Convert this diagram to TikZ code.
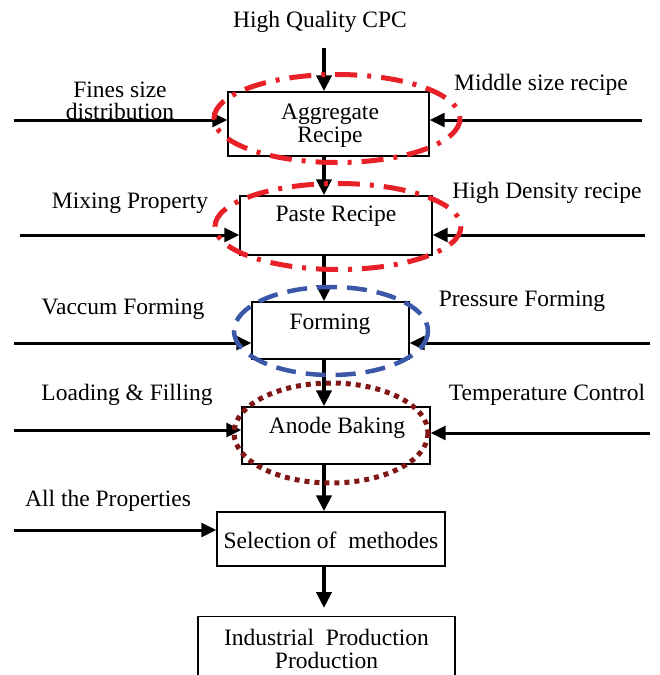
\documentclass[tikz,border=0pt]{standalone}
\usepackage{fontspec}
\setmainfont{Liberation Serif}
\usetikzlibrary{arrows.meta}
\definecolor{ellred}{RGB}{232,32,40}
\definecolor{ellblue}{RGB}{59,87,167}
\definecolor{ellbrown}{RGB}{128,22,22}
\begin{document}
\begin{tikzpicture}[x=1pt,y=-1pt,
  box/.style={draw, line width=1.4pt, fill=white, inner sep=0pt},
  txt/.style={inner sep=0pt, align=center, font=\fontsize{23.5}{23}\selectfont},
  mainarr/.style={line width=4.8pt, -{Triangle[length=16pt,width=15pt]}},
  sidearr/.style={line width=3pt, -{Triangle[length=15pt,width=14pt]}},
  redell/.style={draw=ellred, line width=5pt, dash pattern=on 22pt off 10pt on 4pt off 10pt},
  blueell/.style={draw=ellblue, line width=4.5pt, dash pattern=on 20pt off 10pt},
  brownell/.style={draw=ellbrown, line width=5pt, dash pattern=on 5pt off 5pt}
]
\useasboundingbox (0,0) rectangle (660,675);
\fill[white] (0,0) rectangle (660,675);

% boxes
\node[box, minimum width=201pt, minimum height=64pt] (b1) at (328.5,124) {};
\node[box, minimum width=192pt, minimum height=59pt] (b2) at (336,225.5) {};
\node[box, minimum width=157pt, minimum height=57pt] (b3) at (330.5,330.5) {};
\node[box, minimum width=188pt, minimum height=57pt] (b4) at (336,435.5) {};
\node[box, minimum width=228pt, minimum height=54pt] (b5) at (331,539) {};
\node[box, minimum width=257pt, minimum height=90pt, anchor=north] (b6) at (326.5,616) {};

% box texts
\node[txt] (t1) at (330,126) {Aggregate\\Recipe};
\node[txt] (t2) at (336,216) {Paste Recipe};
\node[txt] (t3) at (330,324) {Forming};
\node[txt] (t4) at (337,428) {Anode Baking};
\node[txt] (t5) at (331,540) {Selection of\ \ methodes};
\node[txt] (t6) at (326.5,649) {Industrial\ \ Production\\Production};

% main flow
\node[txt] (top) at (320,22) {High Quality CPC};
\coordinate (s0) at (324,48);
\coordinate (e6) at (324,608);
\draw[mainarr] (s0) -- (b1.north -| s0);
\draw[mainarr] (b1.south -| s0) -- (b2.north -| s0);
\draw[mainarr] (b2.south -| s0) -- (b3.north -| s0);
\draw[mainarr] (b3.south -| s0) -- (b4.north -| s0);
\draw[mainarr] (b4.south -| s0) -- (b5.north -| s0);
\draw[mainarr] (b5.south -| s0) -- (e6);

% side inputs
\coordinate (l1) at (14,120);   \coordinate (r1) at (642,120);
\coordinate (l2) at (20,235);   \coordinate (r2) at (645,235);
\coordinate (l3) at (14,343);   \coordinate (r3) at (650,343);
\coordinate (l4) at (14,430);   \coordinate (r4) at (650,433);
\coordinate (l5) at (14,530);
\draw[sidearr] (l1) -- (b1.west |- l1);
\draw[sidearr] (r1) -- (b1.east |- r1);
\draw[sidearr] (l2) -- (b2.west |- l2);
\draw[sidearr] (r2) -- (b2.east |- r2);
\draw[sidearr] (l3) -- (b3.west |- l3);
\draw[sidearr] (r3) -- (b3.east |- r3);
\draw[sidearr] (l4) -- (b4.west |- l4);
\draw[sidearr] (r4) -- (b4.east |- r4);
\draw[sidearr] (l5) -- (b5.west |- l5);

% side labels
\node[txt, font=\fontsize{23.5}{22.5}\selectfont] (a1) at (120,101) {Fines size\\distribution};
\node[txt] (a2) at (541,85) {Middle size recipe};
\node[txt] (a3) at (130,203) {Mixing Property};
\node[txt] (a4) at (547,193) {High Density recipe};
\node[txt] (a5) at (123,309) {Vaccum Forming};
\node[txt] (a6) at (522,301) {Pressure Forming};
\node[txt] (a7) at (127,395) {Loading \& Filling};
\node[txt] (a8) at (547,395) {Temperature Control};
\node[txt] (a9) at (108,501) {All the Properties};

% highlight ellipses
\draw[redell] (337,118.5) ellipse [x radius=123, y radius=44];
\draw[redell] (338,226.5) ellipse [x radius=123, y radius=43];
\draw[blueell] (331,331) ellipse [x radius=97, y radius=44];
\draw[brownell] (331,433) ellipse [x radius=97, y radius=50];
\end{tikzpicture}
\end{document}
